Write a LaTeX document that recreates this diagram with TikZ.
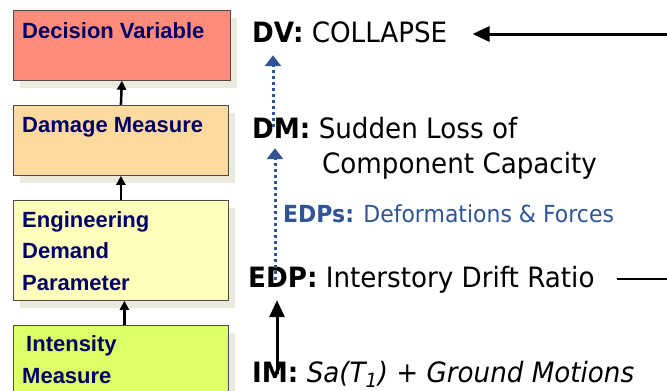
\documentclass[tikz,border=0pt]{standalone}
\usepackage{fontspec}
\setmainfont{DejaVu Sans}[FakeStretch=0.935]
\newfontfamily\boxfont{Liberation Sans}
\usetikzlibrary{arrows.meta,shadows}

\definecolor{dvred}{HTML}{FF8C7A}
\definecolor{dmorange}{HTML}{FFDA9E}
\definecolor{edpyellow}{HTML}{FFFFBB}
\definecolor{imgreen}{HTML}{DDFF66}
\definecolor{boxshade}{HTML}{ECE9DD}
\definecolor{navy}{HTML}{000066}
\definecolor{edpblue}{HTML}{2F5597}

\begin{document}
\begin{tikzpicture}[x=1pt, y=-1pt,
  box/.style={draw=black!70, line width=0.8pt, anchor=north west, minimum width=215pt,
    drop shadow={shadow xshift=7pt, shadow yshift=-8pt, fill=boxshade, opacity=1}},
  boxtext/.style={anchor=base west, inner sep=0pt, text=navy, align=left,
    font=\boxfont\bfseries\fontsize{22}{31.5}\selectfont},
  rtext/.style={anchor=base west, inner sep=0pt, text height=22pt, text depth=6pt,
    font=\fontsize{28}{32}\selectfont},
  uparrow/.style={line width=2.5pt, -{Triangle[width=9pt,length=9pt]}},
  dotarrow/.style={edpblue, line width=3pt, dash pattern=on 3pt off 3pt, -{Triangle[width=16pt,length=11pt]}},
  solidarrow/.style={line width=3pt, -{Triangle[width=15pt,length=17pt]}}]
\useasboundingbox (0,0) rectangle (667,391);

% boxes
\node[box, fill=dvred, minimum width=217pt, minimum height=70pt] (dvbox) at (13,10) {};
\node[box, fill=dmorange, minimum height=70pt] (dmbox) at (13,105) {};
\node[box, fill=edpyellow, minimum height=100pt] (edpbox) at (13,200) {};
\node[box, fill=imgreen, minimum height=80pt] (imbox) at (13,325) {};

% names in the boxes (base = last line)
\node[boxtext] (dvname) at (22,38) {Decision Variable};
\node[boxtext] (dmname) at (22,132) {Damage Measure};
\node[boxtext] (edpname) at (22,290) {Engineering\\Demand\\Parameter};
\node[boxtext] (imname) at (22,383) {\hspace*{4pt}Intensity\\Measure};

\draw[uparrow] (dmbox.north) -- (dvbox.south);
\draw[uparrow] (edpbox.north) -- (dmbox.south);
\draw[uparrow] ([xshift=3.5pt]imbox.north) -- ([xshift=3.5pt]edpbox.south);

% right column
\node[rtext] (dv) at (252,42) {\textbf{DV:} COLLAPSE};
\node[rtext] (dm) at (252,138) {\textbf{DM:} Sudden Loss of};
\node[rtext] (dmb) at (322,173) {Component Capacity};
\node[anchor=base west, inner sep=0pt, text=edpblue, font=\fontsize{23.5}{26}\selectfont] (edps) at (283,222) {\textbf{EDPs:} Deformations \& Forces};
\node[rtext] (edp) at (248,287) {\textbf{EDP:} Interstory Drift Ratio};
\node[rtext] (im) at (252,382) {\textbf{IM:} \textit{Sa(T\textsubscript{1}) + Ground Motions}};

\coordinate (dvin) at (667,34);
\coordinate (edpout) at (667,279);

\draw[dotarrow, shorten <=-11pt, shorten >=7pt] ([xshift=21pt]dm.north west) -- ([xshift=21pt]dv.south west);
\draw[dotarrow, shorten <=-15pt, shorten >=4pt] ([xshift=27pt]edp.north west) -- ([xshift=27pt]edp.north west |- dm.south);
\draw[solidarrow, shorten <=-14pt, shorten >=7pt] ([xshift=25pt]im.north west) -- ([xshift=25pt]im.north west |- edp.south);
\draw[solidarrow, shorten >=25pt] (dvin) -- (dvin -| dv.east);
\draw[line width=2.5pt, shorten <=22pt] (edp.east |- edpout) -- (edpout);
\end{tikzpicture}
\end{document}
